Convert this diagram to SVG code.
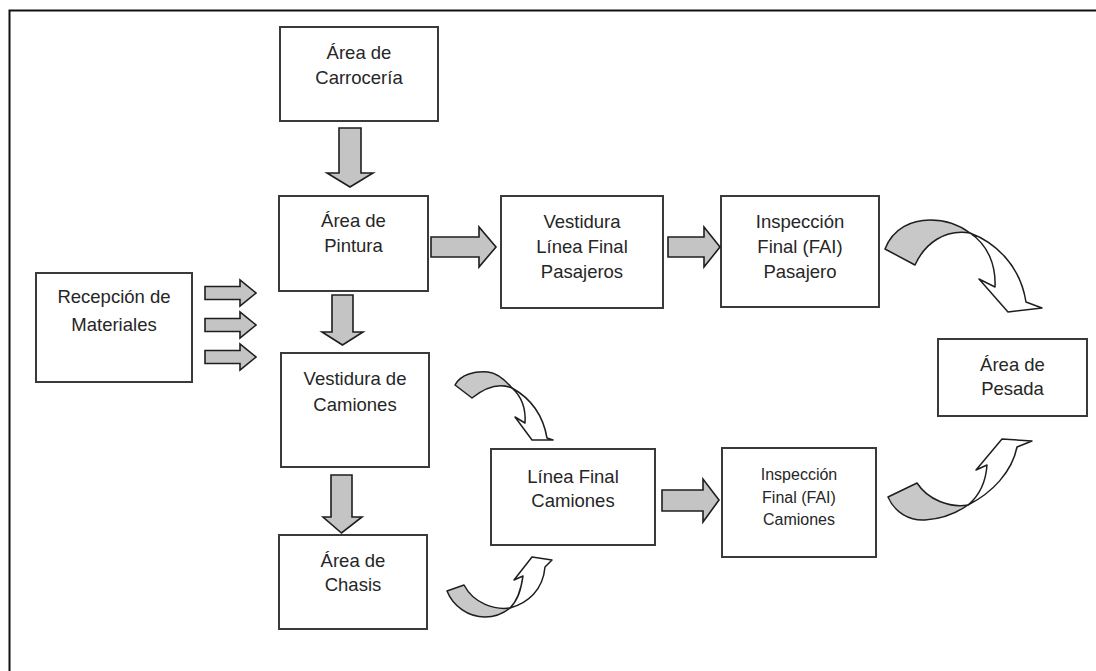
<svg xmlns="http://www.w3.org/2000/svg" width="1096" height="671" viewBox="0 0 1096 671">
  <style>
    .box { fill: #ffffff; stroke: #3a3a3a; stroke-width: 2; }
    .lbl { font-family: "Liberation Sans", Arial, sans-serif; font-size: 18.5px; fill: #262626; text-anchor: middle; }
    .sm { font-size: 16px; }
    .blk { fill: #c4c4c4; stroke: #1e1e1e; stroke-width: 1.6; stroke-linejoin: miter; }
    .back { fill: #c8c8c8; stroke: #1e1e1e; stroke-width: 1.5; stroke-linejoin: round; }
    .front { fill: #ffffff; stroke: #1e1e1e; stroke-width: 1.5; stroke-linejoin: round; }
    .frame { fill: none; stroke: #111111; stroke-width: 2; }
  </style>

  <rect width="1096" height="671" fill="#ffffff"/>

  <!-- outer frame (top and left edges) -->
  <path class="frame" d="M9.5,671 V10.5 H1096"/>

  <!-- process boxes -->
  <g id="carroceria">
    <rect class="box" x="280" y="27" width="158" height="94"/>
    <text class="lbl" x="359" y="59">Área de</text>
    <text class="lbl" x="359" y="84">Carrocería</text>
  </g>
  <g id="pintura">
    <rect class="box" x="279" y="196" width="149" height="95"/>
    <text class="lbl" x="353.5" y="227">Área de</text>
    <text class="lbl" x="353.5" y="252">Pintura</text>
  </g>
  <g id="recepcion">
    <rect class="box" x="36" y="273" width="156" height="109"/>
    <text class="lbl" x="114" y="303">Recepción de</text>
    <text class="lbl" x="114" y="331">Materiales</text>
  </g>
  <g id="vestidura-camiones">
    <rect class="box" x="281" y="353" width="148" height="114"/>
    <text class="lbl" x="355" y="385">Vestidura de</text>
    <text class="lbl" x="355" y="411">Camiones</text>
  </g>
  <g id="chasis">
    <rect class="box" x="279" y="535" width="148" height="94"/>
    <text class="lbl" x="353" y="567">Área de</text>
    <text class="lbl" x="353" y="591">Chasis</text>
  </g>
  <g id="vestidura-pasajeros">
    <rect class="box" x="501" y="196" width="162" height="112"/>
    <text class="lbl" x="582" y="228">Vestidura</text>
    <text class="lbl" x="582" y="253">Línea Final</text>
    <text class="lbl" x="582" y="278">Pasajeros</text>
  </g>
  <g id="inspeccion-pasajero">
    <rect class="box" x="721" y="196" width="158" height="111"/>
    <text class="lbl" x="800" y="228">Inspección</text>
    <text class="lbl" x="800" y="253">Final (FAI)</text>
    <text class="lbl" x="800" y="278">Pasajero</text>
  </g>
  <g id="linea-final-camiones">
    <rect class="box" x="491" y="449" width="164" height="96"/>
    <text class="lbl" x="573" y="483">Línea Final</text>
    <text class="lbl" x="573" y="507">Camiones</text>
  </g>
  <g id="inspeccion-camiones">
    <rect class="box" x="722" y="448" width="154" height="109"/>
    <text class="lbl sm" x="799" y="480">Inspección</text>
    <text class="lbl sm" x="799" y="503">Final (FAI)</text>
    <text class="lbl sm" x="799" y="525">Camiones</text>
  </g>
  <g id="pesada">
    <rect class="box" x="938" y="339" width="149" height="77"/>
    <text class="lbl" x="1012.5" y="371">Área de</text>
    <text class="lbl" x="1012.5" y="395">Pesada</text>
  </g>

  <!-- connectors -->
  <g id="connectors">
    <!-- block arrows pointing down -->
    <polygon class="blk" points="339,128 361,128 361,173 373,173 350,187 327,173 339,173"/>
    <polygon class="blk" points="332,295 353,295 353,332 363,332 342.5,345 322,332 332,332"/>
    <polygon class="blk" points="331,475 352,475 352,517 362,517 341.5,533 323,517 331,517"/>

    <!-- block arrows pointing right -->
    <polygon class="blk" points="431,237 479,237 479,227 496,247 479,267 479,257 431,257"/>
    <polygon class="blk" points="668,237 704,237 704,227 720,247 704,267 704,257 668,257"/>
    <polygon class="blk" points="662,490 703,490 703,479 719,500 703,522 703,511 662,511"/>

    <!-- three feed arrows from Recepción de Materiales -->
    <polygon class="blk" points="205,286.5 240,286.5 240,280 256,293 240,306 240,299.5 205,299.5"/>
    <polygon class="blk" points="205,318.5 240,318.5 240,312 256,325 240,338 240,331.5 205,331.5"/>
    <polygon class="blk" points="205,350.5 240,350.5 240,344 256,357 240,370 240,363.5 205,363.5"/>

    <!-- curved arrow: Inspección Pasajero to Pesada -->
    <path class="front" d="M970,233 C994,242 1020,264 1026,302 L1042,308 L1008,312 L979,279 L995,287 C996,265 988,245 970,233 Z"/>
    <path class="back" d="M885,249 C893,228 912,220 930,220 C948,220 962,227 970,233 C945,229 925,243 915,265 Z"/>

    <!-- curved arrow: Vestidura de Camiones to Línea Final Camiones -->
    <path class="front" d="M512,388 C530,398 543,415 547,438 L553,440 L532,440 L515,417 L525,423 C526,408 521,396 512,388 Z"/>
    <path class="back" d="M455,385 C461,374 475,371 488,372 C498,373 506,381 512,388 C500,383 487,386 472,398 Z"/>

    <!-- curved arrow: Chasis to Línea Final Camiones -->
    <path class="front" d="M510,608 C528,603 543,590 545,567 L552,560 L532,557 L514,580 L523,576 C521,590 518,600 510,608 Z"/>
    <path class="back" d="M447,591 C453,606 468,617 485,617 C496,617 505,612 510,608 C495,610 474,604 464,585 Z"/>

    <!-- curved arrow: Inspección Camiones to Pesada -->
    <path class="front" d="M968,505 C992,493 1012,472 1017,447 L1032,441 L1002,439 L976,470 L987,465 C986,480 980,495 968,505 Z"/>
    <path class="back" d="M888,497 C895,513 910,521 925,520 C942,519 958,512 968,505 C950,508 928,500 917,483 Z"/>
  </g>
</svg>
